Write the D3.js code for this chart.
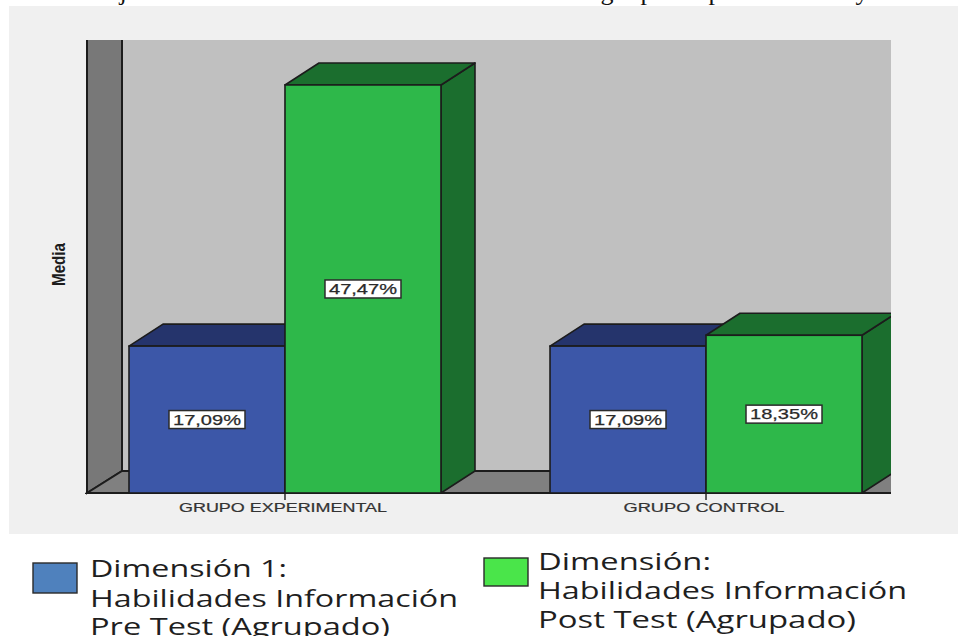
<!DOCTYPE html>
<html lang="es">
<head>
<meta charset="utf-8">
<title>Habilidades Información</title>
<script src="https://cdn.jsdelivr.net/npm/d3@7/dist/d3.min.js"></script>
<style>
  html, body { margin: 0; padding: 0; background: #fff; overflow: hidden; }
  svg { display: block; }
</style>
</head>
<body>
<svg id="chart" width="958" height="636"></svg>
<script>
// Mean percentage per group and test moment
const categories = ["GRUPO EXPERIMENTAL", "GRUPO CONTROL"];
const seriesKeys = ["pre", "post"];
const preValues = [17.09, 17.09];
const postValues = [47.47, 18.35];
const valueLabels = [["17,09%", "47,47%"], ["17,09%", "18,35%"]];
const categoryLabelWidths = [208, 161];
const yAxisTitle = "Media";

const legendPre = ["Dimensión 1:", "Habilidades Información", "Pre Test (Agrupado)"];
const legendPost = ["Dimensión:", "Habilidades Información", "Post Test (Agrupado)"];

// Body text of the page running above the figure; only its descenders reach the canvas
const runningText = [["j", 123], ["g", 607], ["p", 647], ["p", 715], ["y", 862]];

const svg = d3.select("#chart");

// Plot frame and 3D extrusion
const floorY = 493, topY = 40, leftX = 87, rightX = 891;
const wallDepth = 35, depthX = 34, depthY = 22;
const outline = "#1c1c1c";

const x0 = d3.scaleBand().domain(categories).range([129, 862]).paddingInner(0.259);
const x1 = d3.scaleBand().domain(seriesKeys).range([0, x0.bandwidth()]);
const y = d3.scaleLinear().domain([0, 52.7]).range([floorY, topY]);
const fronts = d3.scaleOrdinal().domain(seriesKeys).range(["#3c57a8", "#2eb84a"]);
const shades = d3.scaleOrdinal().domain(seriesKeys).range(["#25346c", "#1b6e2e"]);

// Page text clipped by the top edge
svg.selectAll("text.running").data(runningText).join("text")
  .attr("class", "running")
  .attr("x", d => d[1]).attr("y", 0)
  .attr("text-anchor", "middle")
  .attr("font-family", "Liberation Serif")
  .attr("font-size", 26).attr("fill", "#111")
  .text(d => d[0]);

// Figure background
svg.append("rect").attr("x", 9).attr("y", 6).attr("width", 949).attr("height", 528).attr("fill", "#f0f0f0");

const defs = svg.append("defs");
defs.append("clipPath").attr("id", "plot-clip")
  .append("rect").attr("x", leftX - 2).attr("y", topY).attr("width", rightX - leftX + 2).attr("height", floorY - topY + 2);

const plot = svg.append("g").attr("clip-path", "url(#plot-clip)");
const pts = a => a.map(p => p.join(",")).join(" ");

// Back wall, side wall and floor
plot.append("rect").attr("x", leftX + wallDepth).attr("y", topY)
  .attr("width", rightX - leftX - wallDepth).attr("height", floorY - depthY - topY).attr("fill", "#c0c0c0");
plot.append("polygon")
  .attr("points", pts([[leftX, topY - 3], [leftX + wallDepth, topY - 3], [leftX + wallDepth, floorY - depthY], [leftX, floorY]]))
  .attr("fill", "#787878").attr("stroke", outline).attr("stroke-width", 2);
plot.append("polygon")
  .attr("points", pts([[leftX, floorY], [leftX + wallDepth, floorY - depthY], [rightX + 4, floorY - depthY], [rightX + 4, floorY]]))
  .attr("fill", "#808080").attr("stroke", outline).attr("stroke-width", 2);

// Rows for the extruded bars, left to right so later faces overlap earlier ones
const rows = categories.flatMap((c, i) => [
  { c, i, key: "pre", value: preValues[i], label: valueLabels[i][0] },
  { c, i, key: "post", value: postValues[i], label: valueLabels[i][1] }
]);

const bars = plot.selectAll("g.bar").data(rows).join("g").attr("class", "bar");
const left = d => x0(d.c) + x1(d.key);
const right = d => left(d) + x1.bandwidth();

bars.append("polygon")
  .attr("points", d => pts([[right(d), y(d.value)], [right(d) + depthX, y(d.value) - depthY], [right(d) + depthX, floorY - depthY], [right(d), floorY]]))
  .attr("fill", d => shades(d.key)).attr("stroke", outline).attr("stroke-width", 1.6).attr("stroke-linejoin", "round");
bars.append("polygon")
  .attr("points", d => pts([[left(d), y(d.value)], [left(d) + depthX, y(d.value) - depthY], [right(d) + depthX, y(d.value) - depthY], [right(d), y(d.value)]]))
  .attr("fill", d => shades(d.key)).attr("stroke", outline).attr("stroke-width", 1.6).attr("stroke-linejoin", "round");
bars.append("rect")
  .attr("x", left).attr("y", d => y(d.value))
  .attr("width", x1.bandwidth()).attr("height", d => floorY - y(d.value))
  .attr("fill", d => fronts(d.key)).attr("stroke", outline).attr("stroke-width", 1.6);

// Value callouts centred on each bar front
const callouts = svg.selectAll("g.callout").data(rows).join("g").attr("class", "callout")
  .attr("transform", d => `translate(${left(d) + x1.bandwidth() / 2},${(y(d.value) + floorY) / 2})`);
callouts.append("rect")
  .attr("x", -38).attr("y", -9).attr("width", 76).attr("height", 18)
  .attr("fill", "#fff").attr("stroke", "#2b2b2b").attr("stroke-width", 1.5);
callouts.append("text")
  .attr("y", 5).attr("text-anchor", "middle")
  .attr("font-family", "Liberation Sans").attr("font-size", 14.5).attr("fill", "#2a2a2a")
  .attr("stroke", "#2a2a2a").attr("stroke-width", 0.25)
  .attr("textLength", 68).attr("lengthAdjust", "spacingAndGlyphs")
  .text(d => d.label);

// Category axis
const axis = svg.append("g").attr("transform", `translate(0,${floorY})`)
  .call(d3.axisBottom(x0).tickSize(7).tickPadding(6));
axis.select(".domain").remove();
axis.selectAll(".tick line").attr("stroke", outline).attr("stroke-width", 1.4);
axis.selectAll(".tick text")
  .attr("dx", -2).attr("y", 10)
  .attr("font-family", "Liberation Sans").attr("font-size", 12).attr("fill", "#333")
  .attr("stroke", "#333").attr("stroke-width", 0.2)
  .attr("textLength", (d, i) => categoryLabelWidths[i]).attr("lengthAdjust", "spacingAndGlyphs");

// Value axis title
svg.append("text")
  .attr("transform", "translate(65,264.5) rotate(-90)")
  .attr("text-anchor", "middle")
  .attr("font-family", "Liberation Sans").attr("font-weight", "bold").attr("font-size", 18).attr("fill", "#1c1c1c")
  .attr("textLength", 43).attr("lengthAdjust", "spacingAndGlyphs")
  .text(yAxisTitle);

// Legend placed beneath the figure
const legendItems = [
  { lines: legendPre, fill: "#4f81bd", box: [33, 563, 44, 30], textX: 90, base: [577, 607, 635], widths: [197, 368, 300] },
  { lines: legendPost, fill: "#4ae54a", box: [484, 558, 44, 28], textX: 538, base: [570, 599, 628], widths: [173, 369, 318] }
];
const legend = svg.selectAll("g.legend").data(legendItems).join("g").attr("class", "legend");
legend.append("rect")
  .attr("x", d => d.box[0]).attr("y", d => d.box[1]).attr("width", d => d.box[2]).attr("height", d => d.box[3])
  .attr("fill", d => d.fill).attr("stroke", "#2a2a2a").attr("stroke-width", 1.4);
legend.selectAll("text")
  .data(d => d.lines.map((t, i) => ({ t, x: d.textX, y: d.base[i], w: d.widths[i] })))
  .join("text")
  .attr("x", d => d.x).attr("y", d => d.y)
  .attr("font-family", "Open Sans").attr("font-size", 23).attr("fill", "#1f1f1f")
  .attr("textLength", d => d.w).attr("lengthAdjust", "spacingAndGlyphs")
  .text(d => d.t);
</script>
</body>
</html>
